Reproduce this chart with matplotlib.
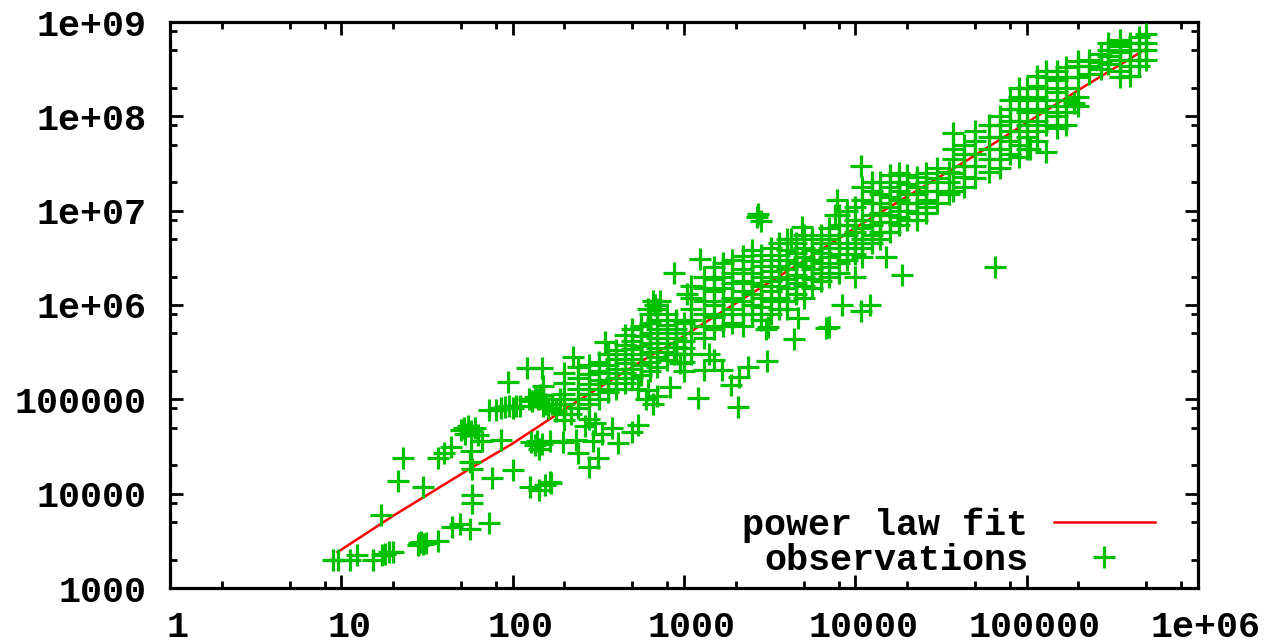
import numpy as np
import matplotlib
matplotlib.use('Agg')
import matplotlib.pyplot as plt
from matplotlib.ticker import FixedLocator, LogLocator, NullFormatter
from matplotlib.transforms import ScaledTranslation

x_tick_values = [1, 10, 100, 1000, 10000, 100000, 1000000]
x_tick_labels = ['1', '10', '100', '1000', '10000', '100000', '1e+06']
y_tick_values = [1e3, 1e4, 1e5, 1e6, 1e7, 1e8, 1e9]
y_tick_labels = ['1000', '10000', '100000', '1e+06', '1e+07', '1e+08', '1e+09']

fit_x = [9.5, 20, 58, 100, 200, 617, 870, 1550, 5400, 10000, 47000, 210000, 490000]
fit_y = [2400, 5800, 19000, 34000, 78000, 280000, 400000, 780000, 3.2e6, 6.6e6, 3.6e7, 2.0e8, 5.1e8]

# region by region
low_tail = [(9, 2000), (9.6, 2000), (11.2, 2000), (12.3, 2250), (15.3, 2000), (17.3, 2250), (19, 2400),
            (20, 2400), (18, 2300), (28, 2850), (28.5, 3000), (29, 3100), (30, 2950), (31, 3000),
            (36.5, 3150), (44, 4400), (49.5, 4800), (56, 4200), (73, 4900), (58, 9700), (58, 8000),
            (17, 5900), (21.5, 13500), (30, 11800), (23, 24000), (36.5, 24000), (40, 27000), (43.5, 31500),
            (57, 28000), (56, 21500), (58, 18300), (76, 14700), (100, 18000), (126, 11800), (143, 11000),
            (165, 13300), (168, 13000), (155, 12500)]
small_cluster = [(52, 50000), (50, 47000), (55, 52000), (57, 46000), (53, 43000), (60, 50000), (63, 42000),
                 (73, 77000), (80, 78000), (85, 80000), (90, 83000), (95, 85000), (100, 80000), (105, 84000),
                 (110, 85000), (94, 152000), (85, 37000), (66, 36000), (121, 215000), (149, 215000),
                 (125, 100000), (130, 95000), (135, 105000), (140, 100000), (145, 110000), (150, 100000),
                 (155, 90000), (135, 33000), (138, 36000), (142, 30000), (148, 34000), (128, 35000),
                 (165, 36000), (197, 35000), (233, 37000), (240, 27000), (303, 56000), (295, 36000),
                 (380, 50000), (410, 34500), (280, 19000), (315, 24000), (540, 54000), (500, 45000),
                 (265, 52000), (280, 62000), (330, 43000), (220, 70000), (200, 60000), (180, 75000)]
band_low = [(160, 80000), (170, 90000), (190, 100000), (225, 280000), (345, 410000), (620, 125000),
            (830, 135000), (700, 108000), (880, 300000), (950, 240000), (1100, 300000), (600, 100000),
            (660, 90000), (540, 130000), (680, 1000000), (720, 1100000), (620, 900000), (660, 1100000)]
mid_strays = [(3050, 255000), (2350, 220000), (1880, 143000), (2100, 173000), (2080, 83000), (1200, 103000),
              (1660, 205000), (1300, 205000), (1500, 260000), (1390, 300000), (4400, 440000), (3100, 580000),
              (3000, 560000), (6700, 570000), (7000, 580000), (8400, 1000000), (10800, 860000), (12200, 1000000),
              (4600, 720000), (18700, 2100000), (15100, 3200000), (9900, 2000000), (65000, 2500000),
              (10800, 3e7), (2700, 9300000), (2800, 7700000), (2650, 8500000), (880, 2200000), (1240, 3100000),
              (1040, 1300000)]
top_strays = [(7800, 1.3e7), (7600, 9000000), (4900, 6700000), (4200, 5000000), (37000, 6.7e7), (1.3e5, 4.2e7),
              (1.05e5, 4.5e7), (1.7e5, 1.1e8), (1.9e5, 1.4e8), (90000, 3.7e7)]

# x column with the y values seen above it
band_rows_low = [(150, [85000, 110000, 140000]),
                 (200, [70000, 90000, 115000, 150000, 190000]),
                 (240, [80000, 100000, 130000, 170000, 220000]),
                 (280, [90000, 115000, 145000, 185000, 230000]),
                 (320, [100000, 130000, 160000, 200000, 250000]),
                 (360, [120000, 150000, 190000, 230000, 300000]),
                 (400, [130000, 170000, 210000, 270000, 330000]),
                 (450, [150000, 190000, 240000, 300000, 380000, 480000]),
                 (500, [170000, 210000, 270000, 340000, 420000, 550000]),
                 (560, [180000, 230000, 300000, 370000, 470000, 600000]),
                 (630, [200000, 250000, 320000, 400000, 500000, 650000, 800000]),
                 (700, [220000, 280000, 350000, 450000, 560000, 700000, 900000]),
                 (800, [260000, 320000, 400000, 500000, 620000, 800000]),
                 (900, [300000, 360000, 450000, 560000, 700000]),
                 (1000, [200000, 250000, 350000, 420000, 500000, 650000])]
band_rows_mid = [(1100, [5e5, 7e5, 9e5, 1.2e6, 1.6e6]),
                 (1300, [4.5e5, 6e5, 8e5, 1.1e6, 1.5e6, 2e6]),
                 (1500, [5.5e5, 7.5e5, 1e6, 1.4e6, 1.9e6, 2.5e6]),
                 (1700, [6e5, 8e5, 1.1e6, 1.5e6, 2e6, 2.8e6]),
                 (1900, [6.5e5, 9e5, 1.2e6, 1.7e6, 2.2e6, 3e6]),
                 (2200, [6e5, 8e5, 1.1e6, 1.4e6, 1.8e6, 2.4e6, 3.3e6]),
                 (2500, [8e5, 1e6, 1.3e6, 1.7e6, 2.2e6, 2.9e6, 3.8e6]),
                 (2800, [7e5, 9.5e5, 1.2e6, 1.6e6, 2e6, 2.6e6, 3.4e6]),
                 (3200, [8e5, 1.1e6, 1.4e6, 1.8e6, 2.3e6, 3e6, 4e6]),
                 (3600, [9e5, 1.2e6, 1.6e6, 2e6, 2.6e6, 3.4e6, 4.5e6]),
                 (4000, [9e5, 1.1e6, 1.5e6, 1.9e6, 2.4e6, 3e6, 3.8e6, 5e6]),
                 (4500, [1.3e6, 1.7e6, 2.1e6, 2.8e6, 3.6e6, 4.5e6]),
                 (5000, [1.2e6, 1.6e6, 2e6, 2.6e6, 3.2e6, 4e6, 5.5e6]),
                 (5600, [1.5e6, 1.9e6, 2.4e6, 3e6, 3.8e6, 5e6]),
                 (6300, [1.8e6, 2.2e6, 2.8e6, 3.6e6, 4.5e6, 5.5e6]),
                 (7000, [2e6, 2.5e6, 3.2e6, 4e6, 5e6, 6.5e6]),
                 (8000, [2.2e6, 2.8e6, 3.5e6, 4.5e6, 5.5e6, 7e6, 9e6]),
                 (9000, [3e6, 4e6, 5.5e6, 7e6, 1e7]),
                 (10000, [3.5e6, 4.5e6, 6e6, 8e6, 1.1e7]),
                 (11000, [3.2e6, 4e6, 5e6, 6.5e6, 8e6, 1.3e7, 1.8e7]),
                 (12500, [4.5e6, 5.5e6, 7e6, 9e6, 1.2e7, 1.6e7, 2e7]),
                 (14000, [5e6, 6e6, 7.5e6, 9.5e6, 1.2e7, 1.5e7, 2e7]),
                 (16000, [6e6, 7.5e6, 9e6, 1.1e7, 1.4e7, 1.8e7, 2.4e7]),
                 (18000, [7e6, 8.5e6, 1e7, 1.3e7, 1.6e7, 2e7, 2.5e7]),
                 (20000, [8e6, 1e7, 1.2e7, 1.5e7, 1.9e7, 2.4e7]),
                 (23000, [8e6, 9.5e6, 1.2e7, 1.5e7, 1.8e7, 2.3e7]),
                 (26000, [9.5e6, 1.1e7, 1.3e7, 1.6e7, 2e7, 2.5e7])]
band_rows_high = [(30000, [1.2e7, 1.6e7, 2.2e7, 2.8e7]),
                  (35000, [1.5e7, 2e7, 2.6e7]),
                  (37000, [1.6e7, 2.5e7, 3.5e7, 4.5e7]),
                  (43000, [1.8e7, 2.3e7, 3e7, 4e7, 5e7]),
                  (50000, [2.2e7, 3e7, 4e7, 5.5e7, 7e7]),
                  (60000, [2.6e7, 3.5e7, 4.5e7, 6e7, 8e7]),
                  (70000, [2.8e7, 3.5e7, 4.5e7, 6e7, 8e7, 1e8]),
                  (80000, [4e7, 5.5e7, 7e7, 9e7, 1.2e8, 1.5e8]),
                  (90000, [5e7, 7e7, 9e7, 1.2e8, 1.6e8, 2e8]),
                  (100000, [4.5e7, 6e7, 8e7, 1.1e8, 1.5e8, 2e8]),
                  (115000, [5.5e7, 7e7, 9e7, 1.2e8, 1.6e8, 2.1e8, 2.7e8]),
                  (130000, [8e7, 1.1e8, 1.5e8, 2e8, 2.6e8, 3e8]),
                  (150000, [7.5e7, 1e8, 1.3e8, 1.8e8, 2.4e8, 3e8]),
                  (170000, [8e7, 1.5e8, 2e8, 2.6e8, 3.3e8]),
                  (200000, [1.3e8, 1.6e8, 2.6e8, 3.4e8, 3.9e8]),
                  (230000, [2.8e8, 3.4e8, 4e8]),
                  (270000, [3.2e8, 3.8e8, 4.6e8]),
                  (300000, [3.6e8, 4.4e8, 5e8, 6e8]),
                  (350000, [2.6e8, 3e8, 4e8, 4.8e8, 5.5e8, 6.5e8]),
                  (400000, [2.7e8, 3.4e8, 4e8, 5e8, 6e8]),
                  (450000, [3.4e8, 4e8, 5e8, 6e8, 7e8]),
                  (500000, [4e8, 5e8, 6e8, 7.5e8])]

band_pts = [(x, y) for x, ys in band_rows_low + band_rows_mid + band_rows_high for y in ys]
obs = np.array(low_tail + small_cluster + band_low + mid_strays + top_strays + band_pts)

plt.rcParams['font.family'] = ['Liberation Mono', 'DejaVu Sans Mono']
plt.rcParams['font.weight'] = 'bold'
plt.rcParams['font.size'] = 26.5

fig = plt.figure(figsize=(12.65, 6.43), dpi=100)
ax = fig.add_axes([170 / 1265, 1 - 588 / 643, (1198 - 170) / 1265, (588 - 22) / 643])

ax.plot(fit_x, fit_y, color='#ff0000', lw=1.8, label='power law fit', zorder=2)
ax.plot(obs[:, 0], obs[:, 1], ls='none', marker='+', ms=15.8, mew=2.3, color='#00c000',
        label='observations', zorder=3)

ax.set_xscale('log')
ax.set_yscale('log')
ax.set_xlim(1, 1e6)
ax.set_ylim(1e3, 1e9)

for axis, vals, labels in [(ax.xaxis, x_tick_values, x_tick_labels), (ax.yaxis, y_tick_values, y_tick_labels)]:
    axis.set_major_locator(FixedLocator(vals))
    axis.set_ticklabels(labels)
    axis.set_minor_locator(LogLocator(base=10, subs=(2, 5, 8), numticks=20))
    axis.set_minor_formatter(NullFormatter())

ax.tick_params(which='major', direction='in', length=9.4, width=2, top=True, right=True)
ax.tick_params(which='minor', direction='in', length=5, width=2, top=True, right=True)
ax.tick_params(axis='x', which='major', pad=16)
ax.tick_params(axis='y', which='major', pad=17)
for spine in ax.spines.values():
    spine.set_linewidth(2.3)

shift = ScaledTranslation(8 / 100, 0, fig.dpi_scale_trans)
for lab in ax.get_xticklabels():
    lab.set_transform(lab.get_transform() + shift)

ax.legend(loc='lower right', frameon=False, markerfirst=False, alignment='right', handlelength=2.75,
          handletextpad=0.7, labelspacing=0.0, borderpad=0, borderaxespad=0,
          bbox_to_anchor=(1155 / 1265, 1 - 578 / 643), bbox_transform=fig.transFigure)

fig.savefig('out.png', dpi=100)
